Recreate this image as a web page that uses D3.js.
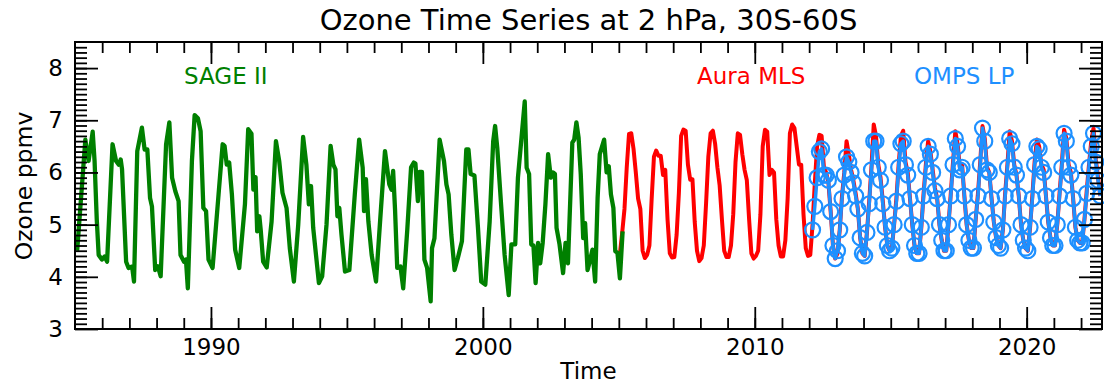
<!DOCTYPE html>
<html>
<head>
<meta charset="utf-8">
<script src="https://cdn.jsdelivr.net/npm/d3@7"></script>
<style>
  body { margin: 0; background: #fff; }
  svg { display: block; font-family: "DejaVu Sans", sans-serif; }
</style>
</head>
<body>
<svg id="chart" width="1104" height="387"></svg>
<script>
// SAGE II polyline (decimal year, ppmv)
const sageTime = [1985.08, 1985.38, 1985.50, 1985.65, 1985.72, 1985.80, 1985.87, 1985.99, 1986.09, 1986.18,
  1986.38, 1986.51, 1986.61, 1986.68, 1986.73, 1986.88, 1986.97, 1987.10, 1987.17, 1987.29,
  1987.46, 1987.56, 1987.66, 1987.76, 1987.83, 1987.95, 1988.05, 1988.15, 1988.35, 1988.47,
  1988.57, 1988.69, 1988.81, 1988.88, 1989.01, 1989.08, 1989.15, 1989.30, 1989.40, 1989.52,
  1989.62, 1989.72, 1989.82, 1989.91, 1990.06, 1990.28, 1990.43, 1990.50, 1990.58, 1990.67,
  1990.77, 1990.89, 1991.04, 1991.25, 1991.37, 1991.49, 1991.56, 1991.64, 1991.70, 1991.78,
  1991.83, 1991.92, 1992.05, 1992.23, 1992.39, 1992.51, 1992.63, 1992.78, 1992.90, 1993.05,
  1993.21, 1993.39, 1993.51, 1993.60, 1993.68, 1993.76, 1993.97, 1994.09, 1994.25, 1994.40,
  1994.50, 1994.58, 1994.65, 1994.72, 1994.80, 1994.93, 1995.09, 1995.29, 1995.45, 1995.58,
  1995.63, 1995.70, 1995.79, 1995.91, 1996.07, 1996.22, 1996.40, 1996.56, 1996.64, 1996.70,
  1996.77, 1996.85, 1996.97, 1997.07, 1997.22, 1997.36, 1997.46, 1997.52, 1997.61, 1997.67,
  1997.76, 1997.85, 1997.95, 1998.08, 1998.13, 1998.22, 1998.41, 1998.57, 1998.66, 1998.74,
  1998.84, 1998.96, 1999.08, 1999.23, 1999.39, 1999.47, 1999.55, 1999.69, 1999.82, 1999.94,
  2000.09, 2000.25, 2000.38, 2000.45, 2000.53, 2000.67, 2000.80, 2000.95, 2001.05, 2001.19,
  2001.29, 2001.54, 2001.61, 2001.70, 2001.78, 2001.86, 2001.94, 2002.03, 2002.11, 2002.20,
  2002.30, 2002.40, 2002.50, 2002.58, 2002.65, 2002.71, 2002.82, 2002.95, 2003.04, 2003.13,
  2003.29, 2003.36, 2003.44, 2003.52, 2003.60, 2003.69, 2003.76, 2003.85, 2003.93, 2004.03,
  2004.13, 2004.22, 2004.30, 2004.46, 2004.55, 2004.63, 2004.71, 2004.80, 2004.87, 2004.95,
  2005.04, 2005.14]
const sageOzone = [4.50, 6.63, 6.22, 6.78, 6.22, 5.10, 4.42, 4.33, 4.39, 4.29,
  6.54, 6.22, 6.15, 6.25, 6.06, 4.29, 4.17, 4.20, 3.91, 6.41,
  6.86, 6.44, 6.44, 5.51, 5.35, 4.13, 4.20, 4.01, 6.54, 6.96,
  5.90, 5.64, 5.45, 4.42, 4.29, 4.33, 3.78, 6.22, 7.10, 7.04,
  6.79, 5.32, 5.26, 4.33, 4.17, 5.58, 6.54, 6.51, 6.15, 6.19,
  5.58, 4.52, 4.17, 5.39, 6.83, 6.74, 5.67, 5.91, 4.87, 5.16,
  4.90, 4.29, 4.18, 5.06, 6.60, 6.22, 5.61, 5.32, 4.55, 3.91,
  5.00, 6.68, 6.15, 5.39, 5.74, 4.94, 3.88, 4.01, 5.00, 6.51,
  6.15, 6.06, 5.16, 5.32, 4.81, 4.10, 4.13, 5.58, 6.63, 6.09,
  5.26, 5.87, 5.06, 4.42, 3.91, 5.06, 6.41, 5.77, 5.67, 6.03,
  5.29, 4.17, 4.20, 3.78, 4.90, 6.10, 6.19, 6.17, 5.45, 6.01,
  6.01, 4.33, 4.17, 3.53, 4.55, 4.74, 6.63, 6.22, 5.77, 5.58,
  4.81, 4.13, 4.36, 4.68, 6.44, 6.44, 5.97, 5.94, 4.94, 3.91,
  3.85, 5.06, 6.60, 6.89, 6.47, 5.39, 4.42, 3.65, 4.62, 4.62,
  5.90, 7.36, 6.09, 5.97, 4.62, 4.60, 3.88, 4.65, 4.26, 4.65,
  5.39, 6.35, 5.90, 6.00, 5.97, 4.94, 4.62, 4.07, 4.65, 4.26,
  6.57, 6.63, 6.96, 6.67, 5.97, 4.74, 5.03, 4.13, 4.29, 4.52,
  3.91, 5.51, 6.35, 6.63, 6.00, 6.12, 5.58, 5.32, 4.49, 4.46,
  3.97, 4.87]

// Aura MLS monthly means, Jan..Dec of each year
const mlsYears = [2005, 2006, 2007, 2008, 2009, 2010, 2011, 2012, 2013, 2014,
  2015, 2016, 2017, 2018, 2019, 2020, 2021, 2022]
const mlsOzone = [
  [4.45, 4.85, 5.30, 6.10, 6.74, 6.75, 6.45, 6.00, 5.50, 5.30, 4.50, 4.36],
  [4.42, 4.60, 5.50, 6.30, 6.42, 6.32, 6.32, 5.95, 6.05, 5.10, 4.45, 4.37],
  [4.38, 4.80, 5.60, 6.70, 6.82, 6.80, 6.15, 5.86, 5.87, 5.05, 4.50, 4.30],
  [4.36, 4.60, 5.40, 6.30, 6.75, 6.80, 6.55, 6.10, 5.75, 5.10, 4.50, 4.38],
  [4.38, 4.60, 5.20, 6.20, 6.75, 6.72, 6.35, 6.05, 5.85, 5.10, 4.45, 4.35],
  [4.40, 4.50, 5.20, 6.50, 6.82, 6.78, 5.95, 6.05, 6.00, 5.10, 4.60, 4.39],
  [4.39, 4.70, 5.50, 6.75, 6.92, 6.85, 6.50, 6.15, 6.15, 5.20, 4.55, 4.40],
  [4.42, 5.00, 5.80, 6.50, 6.72, 6.70, 6.10, 6.00, 5.80, 5.25, 4.60, 4.35],
  [4.45, 4.90, 5.55, 6.00, 6.60, 6.35, 6.05, 5.85, 5.60, 5.30, 4.75, 4.45],
  [4.40, 4.85, 5.45, 6.10, 6.92, 6.70, 6.15, 5.90, 5.45, 4.95, 4.60, 4.50],
  [4.55, 5.00, 5.50, 6.15, 6.70, 6.80, 6.20, 6.00, 5.50, 5.00, 4.60, 4.45],
  [4.45, 4.95, 5.60, 6.15, 6.60, 6.40, 6.05, 5.70, 5.50, 5.00, 4.70, 4.50],
  [4.50, 5.00, 5.60, 6.20, 6.79, 6.55, 6.10, 6.15, 5.55, 5.00, 4.70, 4.55],
  [4.55, 5.10, 5.60, 6.20, 6.89, 6.65, 6.10, 6.00, 5.50, 5.05, 4.75, 4.60],
  [4.55, 4.90, 5.60, 6.15, 6.79, 6.60, 6.15, 5.95, 5.55, 5.00, 4.70, 4.55],
  [4.50, 4.95, 5.55, 6.20, 6.63, 6.50, 6.15, 6.05, 5.55, 5.05, 4.75, 4.60],
  [4.60, 5.00, 5.60, 6.15, 6.82, 6.65, 6.15, 6.00, 5.50, 4.95, 4.70, 4.65],
  [4.65, 5.10, 5.65, 6.15, 6.60, 6.85, 6.25, 5.90, 5.55]
]

// OMPS LP monthly means, Jan..Dec (null = no data)
const ompsYears = [2012, 2013, 2014, 2015, 2016, 2017, 2018, 2019, 2020, 2021, 2022]
const ompsOzone = [
  [null, 4.90, 5.35, 5.90, 6.40, 6.45, 5.95, 5.95, 5.85, 5.25, 4.60, 4.35],
  [4.50, 4.90, 5.50, 5.95, 6.30, 6.20, 6.00, 5.80, 5.55, 5.30, 4.75, 4.45],
  [4.40, 4.85, 5.40, 6.05, 6.60, 6.60, 6.10, 5.85, 5.40, 4.95, 4.60, 4.50],
  [4.55, 5.00, 5.45, 6.10, 6.55, 6.60, 6.15, 5.95, 5.50, 5.00, 4.60, 4.45],
  [4.45, 4.95, 5.55, 6.10, 6.50, 6.35, 6.00, 5.65, 5.50, 5.00, 4.70, 4.50],
  [4.50, 5.00, 5.55, 6.15, 6.65, 6.50, 6.05, 6.10, 5.55, 5.00, 4.70, 4.55],
  [4.55, 5.10, 5.55, 6.15, 6.85, 6.60, 6.05, 6.00, 5.50, 5.05, 4.75, 4.60],
  [4.55, 4.90, 5.55, 6.10, 6.65, 6.55, 6.10, 5.95, 5.55, 5.00, 4.70, 4.55],
  [4.50, 4.95, 5.50, 6.15, 6.50, 6.45, 6.10, 6.00, 5.55, 5.05, 4.75, 4.60],
  [4.60, 5.00, 5.55, 6.10, 6.75, 6.60, 6.10, 5.95, 5.50, 4.95, 4.70, 4.65],
  [4.65, 5.10, 5.60, 6.10, 6.50, 6.75, 6.20, 5.85, 5.55]
]

const xTicksMajor = [1990, 2000, 2010, 2020]
const yTicksMajor = [3, 4, 5, 6, 7, 8]
const seriesLabels = ['SAGE II', 'Aura MLS', 'OMPS LP']

// month values -> {t, v}
function monthly(years, rows) {
  const out = []
  years.forEach((yr, i) => {
    rows[i].forEach((v, m) => {
      if (v != null) out.push({ t: yr + (m + 0.5) / 12, v: v })
    })
  })
  return out
}

const sage = sageTime.map((t, i) => ({ t: t, v: sageOzone[i] }))
const mls = monthly(mlsYears, mlsOzone)
const omps = monthly(ompsYears, ompsOzone)

const mLeft = 75, mRight = 1102, mTop = 42, mBottom = 329

const svg = d3.select('#chart')

// scales //
const x = d3.scaleLinear().domain([1985, 2022.77]).range([mLeft, mRight])
const y = d3.scaleLinear().domain([3, 8.5]).range([mBottom, mTop])

svg.append('clipPath').attr('id', 'plot-clip')
  .append('rect')
  .attr('x', mLeft).attr('y', mTop)
  .attr('width', mRight - mLeft).attr('height', mBottom - mTop)

const line = d3.line()
  .x(d => x(d.t))
  .y(d => y(d.v))

const plot = svg.append('g').attr('clip-path', 'url(#plot-clip)')

// MLS first, SAGE drawn over its start
plot.append('path')
  .attr('d', line(mls))
  .attr('fill', 'none')
  .attr('stroke', '#ff0000')
  .attr('stroke-width', 4)
  .attr('stroke-linejoin', 'round')

plot.append('path')
  .attr('d', line(sage))
  .attr('fill', 'none')
  .attr('stroke', '#008000')
  .attr('stroke-width', 4.3)
  .attr('stroke-linejoin', 'round')

plot.append('path')
  .attr('d', line(omps))
  .attr('fill', 'none')
  .attr('stroke', '#1e90ff')
  .attr('stroke-width', 3.5)
  .attr('stroke-linejoin', 'round')

svg.append('g')
  .selectAll('circle')
  .data(omps)
  .join('circle')
  .attr('cx', d => x(d.t))
  .attr('cy', d => y(d.v))
  .attr('r', 7.5)
  .attr('fill', 'none')
  .attr('stroke', '#1e90ff')
  .attr('stroke-width', 2.2)

// axes //
function styleAxis(g) {
  g.select('.domain').remove()
  g.selectAll('.tick line').attr('stroke', '#000').attr('stroke-width', 1.8)
  g.selectAll('.tick text').attr('fill', '#000').style('font-size', '23px')
    .style('font-family', '"DejaVu Sans", sans-serif')
}

const years = d3.range(1986, 2023)
svg.append('g').attr('transform', `translate(0,${mBottom})`)
  .call(d3.axisBottom(x).tickValues(years).tickSize(-11).tickFormat(''))
  .call(styleAxis)
svg.append('g').attr('transform', `translate(0,${mBottom})`)
  .call(d3.axisBottom(x).tickValues(xTicksMajor).tickSize(-22).tickPadding(10).tickFormat(d3.format('d')))
  .call(styleAxis)
svg.append('g').attr('transform', `translate(0,${mTop})`)
  .call(d3.axisTop(x).tickValues(years).tickSize(-11).tickFormat(''))
  .call(styleAxis)
svg.append('g').attr('transform', `translate(0,${mTop})`)
  .call(d3.axisTop(x).tickValues(xTicksMajor).tickSize(-22).tickFormat(''))
  .call(styleAxis)

const tenths = d3.range(31, 85).map(d => d / 10)
svg.append('g').attr('transform', `translate(${mLeft},0)`)
  .call(d3.axisLeft(y).tickValues(tenths).tickSize(-12).tickFormat(''))
  .call(styleAxis)
svg.append('g').attr('transform', `translate(${mLeft},0)`)
  .call(d3.axisLeft(y).tickValues(yTicksMajor).tickSize(-23).tickPadding(12).tickFormat(d3.format('d')))
  .call(styleAxis)
svg.append('g').attr('transform', `translate(${mRight},0)`)
  .call(d3.axisRight(y).tickValues(tenths).tickSize(-12).tickFormat(''))
  .call(styleAxis)
svg.append('g').attr('transform', `translate(${mRight},0)`)
  .call(d3.axisRight(y).tickValues(yTicksMajor).tickSize(-23).tickFormat(''))
  .call(styleAxis)

// frame
svg.append('rect')
  .attr('x', mLeft).attr('y', mTop)
  .attr('width', mRight - mLeft).attr('height', mBottom - mTop)
  .attr('fill', 'none')
  .attr('stroke', '#000')
  .attr('stroke-width', 2)

// titles //
svg.append('text')
  .attr('x', (mLeft + mRight) / 2).attr('y', 30)
  .attr('text-anchor', 'middle')
  .style('font-size', '29px')
  .text('Ozone Time Series at 2 hPa, 30S-60S')

svg.append('text')
  .attr('x', (mLeft + mRight) / 2).attr('y', 379)
  .attr('text-anchor', 'middle')
  .style('font-size', '23px')
  .text('Time')

svg.append('text')
  .attr('transform', 'translate(32,186) rotate(-90)')
  .attr('text-anchor', 'middle')
  .style('font-size', '23.5px')
  .text('Ozone ppmv')

// series labels
const labelPos = [[184, '#008000'], [697, '#ff0000'], [914, '#1e90ff']]
seriesLabels.forEach((s, i) => {
  svg.append('text')
    .attr('x', labelPos[i][0]).attr('y', 84)
    .attr('fill', labelPos[i][1])
    .style('font-size', '23px')
    .text(s)
})
</script>
</body>
</html>
